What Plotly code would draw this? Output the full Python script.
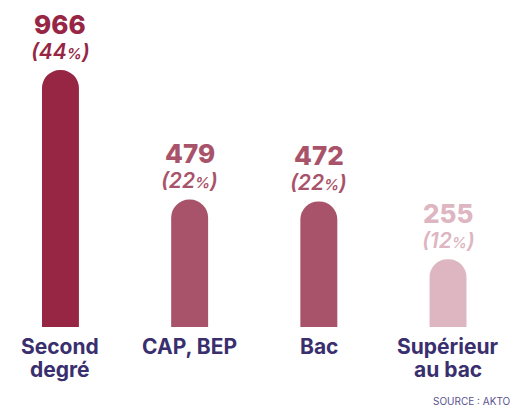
import plotly.graph_objects as go

categories = ["Second degré", "CAP, BEP", "Bac", "Supérieur au bac"]
label_lines = [["Second", "degré"], ["CAP, BEP"], ["Bac"], ["Supérieur", "au bac"]]
values = [966, 479, 472, 255]
percents = [44, 22, 22, 12]
colors = ["#972644", "#A9536B", "#A9536B", "#DDB6C1"]
source_text = "SOURCE : AKTO"

FONT = "Inter"
NAVY = "#3A2F6E"

fig = go.Figure(
    go.Bar(
        x=categories,
        y=values,
        marker=dict(color=colors, line=dict(width=0)),
        width=0.286,
        hoverinfo="skip",
    )
)

annotations = []
for cat, v, p, c in zip(categories, values, percents, colors):
    annotations.append(dict(
        x=cat, y=v, xref="x", yref="y", yanchor="middle", xanchor="center",
        yshift=46, showarrow=False,
        text=f"{v}",
        font=dict(family=FONT, size=26, color=c, weight=800),
    ))
    annotations.append(dict(
        x=cat, y=v, xref="x", yref="y", yanchor="middle", xanchor="center",
        yshift=19, showarrow=False,
        text=f"<i>({p}<span style='font-size:15px'>%</span>)</i>",
        font=dict(family=FONT, size=21, color=c, weight=600),
    ))

for cat, lines in zip(categories, label_lines):
    for i, line in enumerate(lines):
        annotations.append(dict(
            x=cat, y=0, xref="x", yref="y", yanchor="middle", xanchor="center",
            yshift=-19 - 23 * i, showarrow=False,
            text=line,
            font=dict(family=FONT, size=21, color=NAVY, weight=700),
        ))

annotations.append(dict(
    x=1, y=0, xref="paper", yref="paper", xanchor="right", yanchor="bottom",
    yshift=-82, xshift=0, showarrow=False,
    text=source_text,
    font=dict(family=FONT, size=10, color="#5A5290"),
))

fig.update_layout(
    width=513, height=409,
    margin=dict(l=0, r=0, t=10, b=82),
    paper_bgcolor="white", plot_bgcolor="white",
    barcornerradius=18,
    showlegend=False,
    xaxis=dict(type="category", range=[-0.468, 3.503], visible=False),
    yaxis=dict(range=[0, 1192], visible=False),
    annotations=annotations,
)

fig.write_html("out.html")
